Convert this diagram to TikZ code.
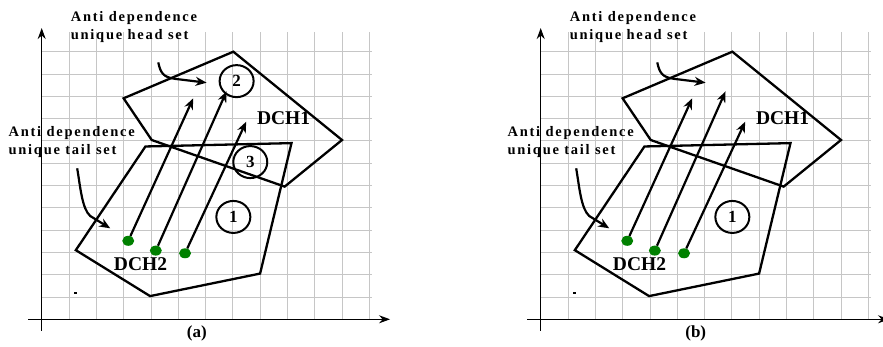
\documentclass[tikz,border=0pt]{standalone}
\usepackage{fontspec}
\setmainfont{Liberation Serif}
\newfontfamily\lblfont{Liberation Serif}[LetterSpace=12]
\usepackage{xcolor}
\usetikzlibrary{arrows.meta, shapes.geometric}

\definecolor{dotgreen}{RGB}{0,128,0}
\tikzset{
  gridline/.style={gray!45, line width=0.8pt},
  axis/.style={line width=1.1pt, -{Stealth[length=11pt, width=8pt]}},
  hull/.style={line width=2.3pt, line join=miter},
  deparrow/.style={line width=2.2pt, -{Stealth[length=11pt, width=9pt]}},
  greendot/.style={ellipse, fill=dotgreen, minimum width=12pt, minimum height=10pt, inner sep=0pt},
  numcirc/.style={ellipse, draw, line width=2pt, minimum width=34pt, minimum height=32pt,
    inner sep=0pt, font=\fontsize{17}{17}\selectfont\bfseries},
  setlabel/.style={align=left, inner sep=0pt, anchor=north west,
    font=\lblfont\fontsize{14.5}{18}\selectfont\bfseries},
  hulllabel/.style={inner sep=0pt, font=\fontsize{19.5}{20}\selectfont\bfseries},
  caption/.style={inner sep=0pt, font=\fontsize{17}{17}\selectfont\bfseries}
}

\begin{document}
\begin{tikzpicture}[x=27.3pt, y=22.3pt]
    \useasboundingbox (-41.7pt,-27.7pt) rectangle (841.3pt,319.3pt);
    \foreach \shx/\tag in {0/a, 499/b}{
    \begin{scope}[xshift=\shx pt]
    % Lưới
    \foreach \i in {1,...,12} \draw[gridline] (\i,0) -- (\i,12.9);
    \foreach \j in {1,...,12} \draw[gridline] (0,\j) -- (12.1,\j);
    % Hệ trục
    \draw[axis] (0,-0.52) -- (0,13.06);
    \draw[axis] (-0.5,0) -- (12.76,0);

    % DCH1 và DCH2
    \draw[hull] (3,9.91) -- (7.02,12) -- (11,8.04) -- (8.9,5.95) -- (4.03,8.04) -- cycle;
    \draw[hull] (3.8,7.75) -- (9.15,7.9) -- (8,2.05) -- (3.97,1.04) -- (1.25,3.1) -- cycle;
    \fill (1.2,1.12) rectangle ++(3pt,2.5pt);

    % Các điểm đuôi và mũi tên phụ thuộc
    \node[greendot] (d1\tag) at (3.17,3.52) {};
    \node[greendot] (d2\tag) at (4.18,3.08) {};
    \node[greendot] (d3\tag) at (5.25,2.96) {};
    \coordinate (t1\tag) at (5.55,9.91);
    \coordinate (t2\tag) at (6.77,10.22);
    \coordinate (t3\tag) at (7.49,8.86);
    \draw[deparrow] (d1\tag) -- (t1\tag);
    \draw[deparrow] (d2\tag) -- (t2\tag);
    \draw[deparrow] (d3\tag) -- (t3\tag);

    % Nhãn
    \node[hulllabel] (dch1\tag) at (8.86,9.01) {DCH1};
    \node[hulllabel] (dch2\tag) at (3.62,2.48) {DCH2};
    \node[numcirc] (c1\tag) at (7.02,4.59) {1};
    \ifnum\shx=0
      \node[numcirc] (c2\tag) at (7.14,10.68) {2};
      \node[numcirc] (c3\tag) at (7.64,7.05) {3};
    \fi
    \node[caption] (cap\tag) at (5.68,-0.63) {(\tag)};

    % Tập đầu / tập đuôi
    \node[setlabel] (head\tag) at (1.06,13.82) {Anti dependence\\unique head set};
    \node[setlabel] (tail\tag) at (-1.22,8.65) {Anti dependence\\unique tail set};
    \coordinate (hs\tag) at (4.27,11.52);
    \coordinate (ht\tag) at (6.04,10.61);
    \draw[deparrow] (hs\tag) .. controls (4.35,11.05) and (4.45,10.85) .. (4.9,10.78) -- (ht\tag);
    \coordinate (ts\tag) at (1.3,6.77);
    \coordinate (tt\tag) at (2.51,4.08);
    \draw[deparrow] (ts\tag) .. controls (1.42,5.9) and (1.48,4.95) .. (1.78,4.63) -- (tt\tag);
    \end{scope}
    }
\end{tikzpicture}
\end{document}
